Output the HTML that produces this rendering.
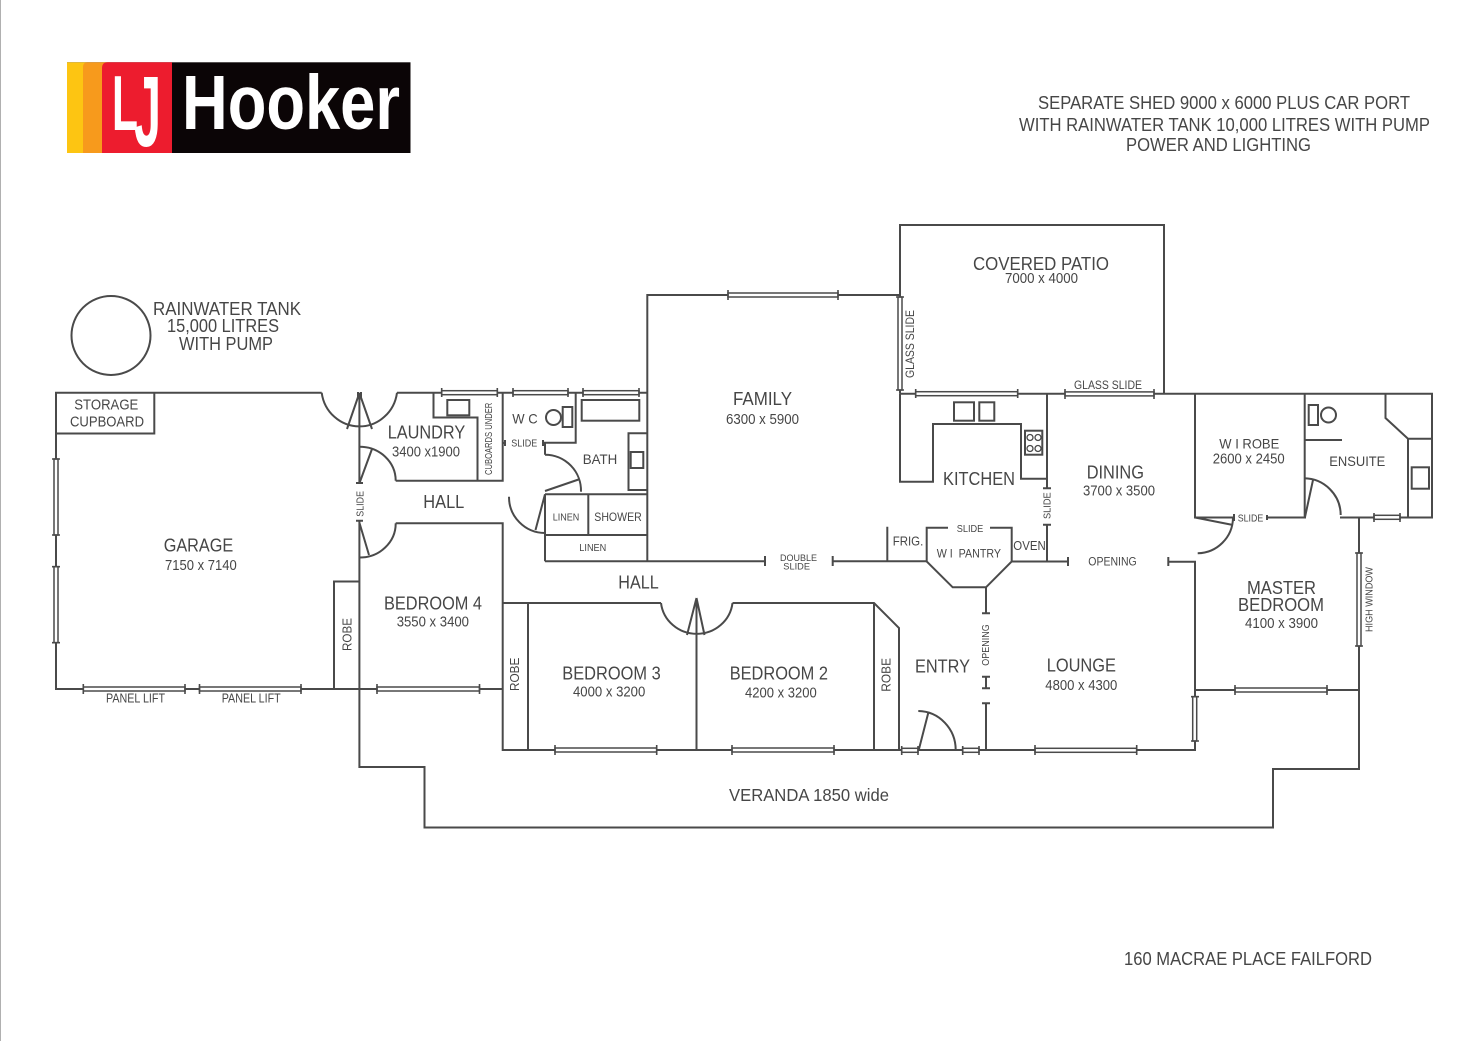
<!DOCTYPE html>
<html><head><meta charset="utf-8"><title>Floor plan</title>
<style>
html,body{margin:0;padding:0;background:#fff;width:1472px;height:1041px;overflow:hidden}
svg{display:block}
text{font-family:"Liberation Sans",sans-serif;fill:#464646}
.w{fill:none;stroke:#4a4a4a;stroke-width:2}
.t{fill:none;stroke:#4a4a4a;stroke-width:1.6}
.win{fill:#fff;stroke:#4a4a4a;stroke-width:1.5}
</style></head><body>
<svg width="1472" height="1041" viewBox="0 0 1472 1041" xmlns="http://www.w3.org/2000/svg">
<rect width="1472" height="1041" fill="#fff"/>
<rect x="0" y="0" width="1" height="1041" fill="#b0b0b0"/>

<!-- logo -->
<rect x="67" y="62.300" width="343.500" height="90.700" fill="#0b0506"/>
<rect x="67" y="62.300" width="20" height="90.700" fill="#fdc512"/>
<path d="M83 153V67q0-4.700 5-4.700H110V153Z" fill="#f79a1c"/>
<path d="M102 153V68q0-5.700 6-5.700H172V153Z" fill="#ed1c2e"/>
<text x="112" y="130" font-size="78" font-weight="bold" textLength="26" lengthAdjust="spacingAndGlyphs" style="fill:#fff">L</text>
<text x="134" y="146" font-size="100" font-weight="bold" textLength="27" lengthAdjust="spacingAndGlyphs" style="fill:#fff">J</text>
<text x="182" y="129" font-size="77" textLength="218" lengthAdjust="spacingAndGlyphs" font-weight="bold" style="fill:#fff">Hooker</text>

<!-- tank -->
<circle cx="111" cy="335.500" r="39.500" class="w"/>

<!-- walls -->
<path class="w" d="M321.700 392.700H56V689H502.700M56 433.500H154.300V392.700M359.500 581.500H334V689"/>
<path class="w" d="M359.400 392.700V483M359.400 520.700V767H424.500V827.500H1273V769H1359V517.500"/>
<path class="w" d="M397 392.700H647M433.500 392.700V417.500H477.500V480.700M395.700 480.700H502.700V392.700"/>
<path class="w" d="M395.700 523.300H502.700V750H1195V561.700H1168.300M502.700 603H661M528 603V750M732.500 603H874L899 628V750M874 603V750M696.500 637V750"/>
<path class="w" d="M545 561.300H765M832.700 561.300H926.700M887.300 526.700V561.300"/>
<path class="w" d="M948 527.700H926.700V561.500L952.700 587.300H986L1011.700 561.500V527.700H990M1011.700 561.500H1068M986 587.300V613.300M986 703.300V750"/>
<path class="w" d="M1047 393.700V488.300M1047 524.700V561.500"/>
<path class="w" d="M900 393.700V481.700H933V424H1021V478.700H1047"/>
<path class="w" d="M647.300 561.300V295H900V393.700M900 295V225H1164V394M900 393.700H1432V517.500H1340M1306 517.500H1267M1234 517.500H1195V394M1304.700 394V517.500"/>
<path class="w" d="M1195 690H1359M1385.500 394V418L1408 438.700H1432M1408 438.700V517.500M1304.700 440H1342"/>
<path class="w" d="M575.700 392.700V442.700H545V454.700M502.700 443H505M545 494.300H647.300M588.300 494.300V535M545 535H647.300M545 494.300V561.300M647.300 433.300H628.500V490H647.300"/>

<!-- fixtures -->
<g class="w" stroke-width="2">
<rect x="447.300" y="400" width="22" height="15.300"/>
<rect x="581.700" y="400" width="57.600" height="20.700"/>
<rect x="562.700" y="407" width="9.600" height="20"/>
<circle cx="553.500" cy="417.500" r="7.500"/>
<rect x="630.700" y="452" width="12.600" height="16"/>
<rect x="954" y="402.300" width="20" height="18.400"/>
<rect x="979.300" y="402.300" width="15" height="18.400"/>
<rect x="1025" y="430.700" width="17.300" height="24"/>
<rect x="1308.700" y="405" width="9.300" height="20"/>
<circle cx="1328.500" cy="415" r="7.500"/>
<rect x="1411.700" y="467.300" width="17.300" height="21.400"/>
</g>
<g fill="none" stroke="#4a4a4a" stroke-width="1.300">
<circle cx="1030" cy="437.500" r="3"/><circle cx="1038" cy="437.500" r="3"/>
<circle cx="1030" cy="448.500" r="3"/><circle cx="1038" cy="448.500" r="3"/>
</g>

<!-- doors -->
<path class="w" d="M321.700 392.700A38 39 0 0 0 397 392.700M359.400 393L347 429M359.400 393L372 429M358 392V398M361 392V398"/>
<path class="w" d="M359.500 446.700A36 34 0 0 1 395.700 480.700M359.500 483L372 449"/>
<path class="w" d="M395.700 523.300A36 34 0 0 1 359.500 557.500M359.500 523L369 555"/>
<path class="w" d="M661 603A36 35 0 0 0 732.500 603M696.500 598V637M696.500 598L687 635M696.500 598L704.500 635"/>
<path class="w" d="M545 454.700A36 36 0 0 1 581 491.700M545 491L580 479"/>
<path class="w" d="M509 496.700A36 36 0 0 0 545 533M545 494.300L535.500 530"/>
<path class="w" d="M1304 478.300A37 37 0 0 1 1340.700 515M1305 517L1313 480"/>
<path class="w" d="M1195 517.500L1233 525M1233 518A36 36 0 0 1 1197.700 553.300"/>
<path class="w" d="M918.300 711A38 39 0 0 1 955.700 750M919 749L928.300 712.700"/>

<!-- ticks -->
<path class="w" d="M356 483H363M356 520.700H363M505 440V446M543 440V446M765 556V566M832.700 556V566M1043 488.300H1051M1043 524.700H1051M1068 557V566M1168.300 557V566M982 613.300H990M982 676.700H990M986 676.700V688.300M982 688.300H990M982 703.300H990M1234 514V521M1267 515V520"/>

<!-- windows -->
<g class="win">
<rect x="83.300" y="687" width="101.700" height="4"/><rect x="199.500" y="687" width="101.500" height="4"/>
<rect x="377" y="687" width="102.500" height="4"/>
<rect x="441.700" y="390.700" width="55.600" height="4"/><rect x="513" y="390.700" width="55" height="4"/><rect x="583" y="390.700" width="56" height="4"/>
<rect x="728" y="293" width="110" height="4"/>
<rect x="915.700" y="391.700" width="102" height="4"/><rect x="1065" y="391.900" width="89" height="4"/>
<rect x="1374" y="515.300" width="26" height="4"/>
<rect x="555" y="748" width="101.700" height="4"/><rect x="732" y="748" width="102" height="4"/>
<rect x="901.700" y="748.300" width="16.300" height="4"/><rect x="962.700" y="748.300" width="16.300" height="4"/>
<rect x="1035" y="748.300" width="101.700" height="4"/><rect x="1235" y="688" width="92" height="4"/>
<rect x="54" y="459" width="4" height="76"/><rect x="54" y="566.700" width="4" height="76"/>
<rect x="898" y="297" width="4" height="93"/>
<rect x="1192.700" y="696.700" width="4" height="44.300"/><rect x="1357" y="553" width="4" height="93"/>
</g>
<path class="t" d="M83.300 684V694M185 684V694M199.500 684V694M301 684V694M377 684V694M479.500 684V694M441.700 388V397M497.300 388V397M513 388V397M568 388V397M583 388V397M639 388V397M728 290V300M838 290V300M915.700 389V398M1017.700 389V398M1065 389V399M1154 389V399M1374 513V522M1400 513V522M555 745V755M656.700 745V755M732 745V755M834 745V755M901.700 746V755M918 746V755M962.700 746V755M979 746V755M1035 745V755M1136.700 745V755M1235 685V695M1327 685V695M52 459H60M52 535H60M52 566.700H60M52 642.700H60M896 297H904M896 390H904M1191 696.700H1199M1191 741H1199M1355 553H1363M1355 646H1363"/>

<!-- labels -->
<text x="1038" y="109" font-size="18" textLength="372" lengthAdjust="spacingAndGlyphs">SEPARATE SHED 9000 x 6000 PLUS CAR PORT</text>
<text x="1019" y="131" font-size="18" textLength="411" lengthAdjust="spacingAndGlyphs">WITH RAINWATER TANK 10,000 LITRES WITH PUMP</text>
<text x="1126" y="151" font-size="18" textLength="185" lengthAdjust="spacingAndGlyphs">POWER AND LIGHTING</text>
<text x="1124" y="965" font-size="18" textLength="248" lengthAdjust="spacingAndGlyphs">160 MACRAE PLACE FAILFORD</text>
<text x="153" y="315" font-size="18" textLength="148" lengthAdjust="spacingAndGlyphs">RAINWATER TANK</text>
<text x="167" y="332" font-size="18" textLength="112" lengthAdjust="spacingAndGlyphs">15,000 LITRES</text>
<text x="179" y="350" font-size="18" textLength="94" lengthAdjust="spacingAndGlyphs">WITH PUMP</text>
<text x="74.300" y="409.300" font-size="15" textLength="64" lengthAdjust="spacingAndGlyphs">STORAGE</text>
<text x="70" y="426.700" font-size="15" textLength="74" lengthAdjust="spacingAndGlyphs">CUPBOARD</text>
<text x="163.700" y="551.700" font-size="18" textLength="69.600" lengthAdjust="spacingAndGlyphs">GARAGE</text>
<text x="165" y="570" font-size="14.500" textLength="71.700" lengthAdjust="spacingAndGlyphs">7150 x 7140</text>
<text x="387.700" y="438.300" font-size="18" textLength="77.600" lengthAdjust="spacingAndGlyphs">LAUNDRY</text>
<text x="392" y="456.700" font-size="14.500" textLength="68" lengthAdjust="spacingAndGlyphs">3400 x1900</text>
<text x="423.300" y="508" font-size="18" textLength="41" lengthAdjust="spacingAndGlyphs">HALL</text>
<text x="384" y="609.300" font-size="18" textLength="98" lengthAdjust="spacingAndGlyphs">BEDROOM 4</text>
<text x="396.700" y="626.700" font-size="14.500" textLength="72.300" lengthAdjust="spacingAndGlyphs">3550 x 3400</text>
<text x="106" y="702.700" font-size="12.500" textLength="59" lengthAdjust="spacingAndGlyphs">PANEL LIFT</text>
<text x="221.700" y="702.700" font-size="12.500" textLength="59" lengthAdjust="spacingAndGlyphs">PANEL LIFT</text>
<text transform="translate(351.300 651) rotate(-90)" font-size="13" textLength="33" lengthAdjust="spacingAndGlyphs">ROBE</text>
<text transform="translate(363.600 516.700) rotate(-90)" font-size="10" textLength="25.700" lengthAdjust="spacingAndGlyphs">SLIDE</text>
<text transform="translate(491.900 475) rotate(-90)" font-size="10" textLength="72.300" lengthAdjust="spacingAndGlyphs">CUBOARDS UNDER</text>
<text x="512.300" y="423.300" font-size="14" textLength="25.400" lengthAdjust="spacingAndGlyphs">W C</text>
<text x="511.300" y="446.700" font-size="10.500" textLength="26" lengthAdjust="spacingAndGlyphs">SLIDE</text>
<text x="582.700" y="464" font-size="14" textLength="34.600" lengthAdjust="spacingAndGlyphs">BATH</text>
<text x="552.700" y="520.300" font-size="10.500" textLength="26.600" lengthAdjust="spacingAndGlyphs">LINEN</text>
<text x="594.300" y="521" font-size="12" textLength="47.400" lengthAdjust="spacingAndGlyphs">SHOWER</text>
<text x="579.300" y="551" font-size="10.500" textLength="27" lengthAdjust="spacingAndGlyphs">LINEN</text>
<text x="618.300" y="588.700" font-size="18" textLength="40.400" lengthAdjust="spacingAndGlyphs">HALL</text>
<text x="562.300" y="679.300" font-size="18" textLength="98.400" lengthAdjust="spacingAndGlyphs">BEDROOM 3</text>
<text x="573" y="696.700" font-size="14.500" textLength="72.300" lengthAdjust="spacingAndGlyphs">4000 x 3200</text>
<text x="729.700" y="679.300" font-size="18" textLength="98.300" lengthAdjust="spacingAndGlyphs">BEDROOM 2</text>
<text x="745" y="697.300" font-size="14.500" textLength="71.700" lengthAdjust="spacingAndGlyphs">4200 x 3200</text>
<text transform="translate(519 691) rotate(-90)" font-size="13" textLength="33.300" lengthAdjust="spacingAndGlyphs">ROBE</text>
<text transform="translate(890.400 691.700) rotate(-90)" font-size="13" textLength="33.700" lengthAdjust="spacingAndGlyphs">ROBE</text>
<text x="780" y="561" font-size="9.500" textLength="37" lengthAdjust="spacingAndGlyphs">DOUBLE</text>
<text x="783.300" y="569.500" font-size="9.500" textLength="26.700" lengthAdjust="spacingAndGlyphs">SLIDE</text>
<text x="733" y="405" font-size="18" textLength="59" lengthAdjust="spacingAndGlyphs">FAMILY</text>
<text x="726" y="424" font-size="14.500" textLength="73" lengthAdjust="spacingAndGlyphs">6300 x 5900</text>
<text x="973" y="270" font-size="18" textLength="136" lengthAdjust="spacingAndGlyphs">COVERED PATIO</text>
<text x="1005" y="283" font-size="14.500" textLength="73" lengthAdjust="spacingAndGlyphs">7000 x 4000</text>
<text transform="translate(914 378) rotate(-90)" font-size="12" textLength="68" lengthAdjust="spacingAndGlyphs">GLASS SLIDE</text>
<text x="1074" y="389" font-size="12" textLength="68" lengthAdjust="spacingAndGlyphs">GLASS SLIDE</text>
<text x="943" y="485" font-size="18" textLength="72" lengthAdjust="spacingAndGlyphs">KITCHEN</text>
<text x="1086.700" y="478.300" font-size="18" textLength="57.300" lengthAdjust="spacingAndGlyphs">DINING</text>
<text x="1083" y="495.300" font-size="14.500" textLength="72" lengthAdjust="spacingAndGlyphs">3700 x 3500</text>
<text transform="translate(1050.600 519) rotate(-90)" font-size="10" textLength="26.700" lengthAdjust="spacingAndGlyphs">SLIDE</text>
<text x="956.700" y="532" font-size="10.500" textLength="26.600" lengthAdjust="spacingAndGlyphs">SLIDE</text>
<text x="892.700" y="545.700" font-size="13" textLength="30.600" lengthAdjust="spacingAndGlyphs">FRIG.</text>
<text x="936.700" y="557.700" font-size="12" textLength="64.300" lengthAdjust="spacingAndGlyphs" xml:space="preserve">W I  PANTRY</text>
<text x="1013.300" y="550" font-size="13" textLength="32.400" lengthAdjust="spacingAndGlyphs">OVEN</text>
<text x="1088.300" y="565.300" font-size="11.500" textLength="48.400" lengthAdjust="spacingAndGlyphs">OPENING</text>
<text x="1219.300" y="448.300" font-size="14" textLength="60" lengthAdjust="spacingAndGlyphs">W I ROBE</text>
<text x="1212.700" y="463.300" font-size="14.500" textLength="72" lengthAdjust="spacingAndGlyphs">2600 x 2450</text>
<text x="1329.300" y="466" font-size="14" textLength="56" lengthAdjust="spacingAndGlyphs">ENSUITE</text>
<text x="1237.700" y="521.300" font-size="10.500" textLength="25.600" lengthAdjust="spacingAndGlyphs">SLIDE</text>
<text x="1247" y="594" font-size="18" textLength="69" lengthAdjust="spacingAndGlyphs">MASTER</text>
<text x="1238" y="611" font-size="18" textLength="86" lengthAdjust="spacingAndGlyphs">BEDROOM</text>
<text x="1245" y="628" font-size="14.500" textLength="73" lengthAdjust="spacingAndGlyphs">4100 x 3900</text>
<text transform="translate(1372.600 632) rotate(-90)" font-size="10" textLength="65" lengthAdjust="spacingAndGlyphs">HIGH WINDOW</text>
<text x="915" y="672.700" font-size="18" textLength="55" lengthAdjust="spacingAndGlyphs">ENTRY</text>
<text transform="translate(989 665.700) rotate(-90)" font-size="10.500" textLength="41.400" lengthAdjust="spacingAndGlyphs">OPENING</text>
<text x="1046.700" y="671.300" font-size="18" textLength="69.300" lengthAdjust="spacingAndGlyphs">LOUNGE</text>
<text x="1045.300" y="690" font-size="14.500" textLength="72" lengthAdjust="spacingAndGlyphs">4800 x 4300</text>
<text x="729" y="801" font-size="17.500" textLength="160" lengthAdjust="spacingAndGlyphs">VERANDA 1850 wide</text>
</svg>
</body></html>
